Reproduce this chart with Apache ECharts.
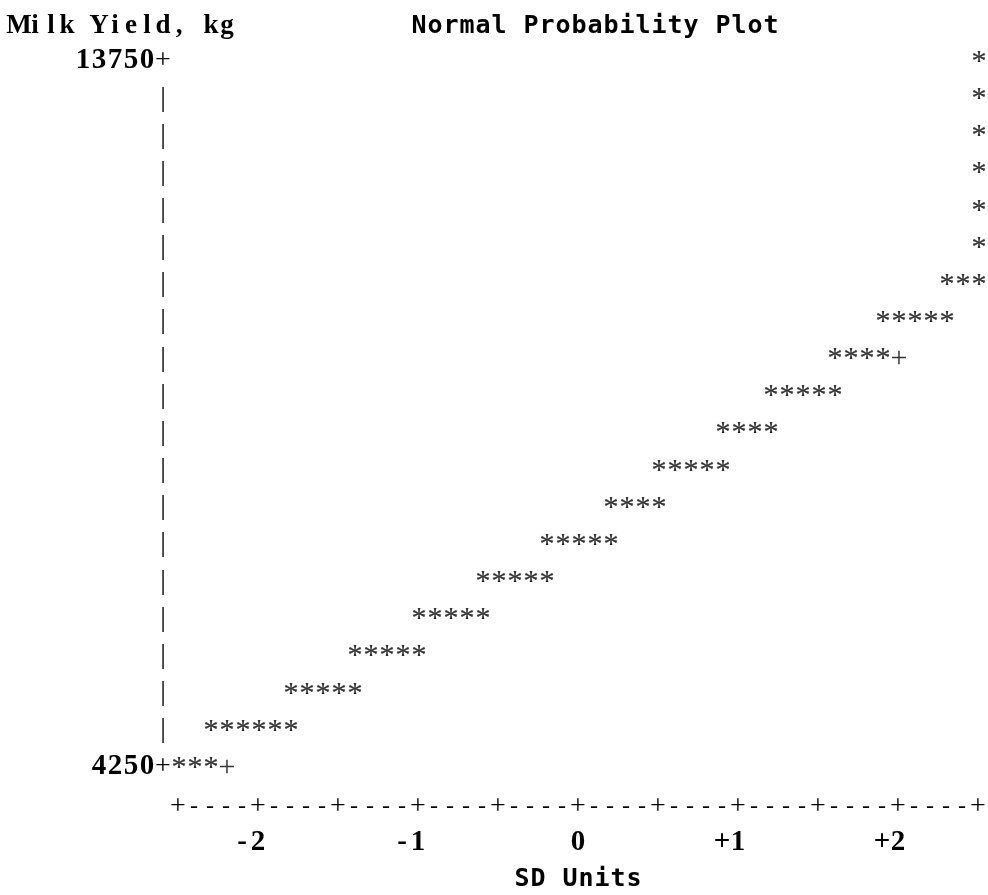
<!DOCTYPE html>
<html>
<head>
<meta charset="utf-8">
<title>Normal Probability Plot</title>
<script src="https://cdn.jsdelivr.net/npm/echarts@6/dist/echarts.min.js"></script>
<style>
  html, body { margin: 0; padding: 0; background: #ffffff; }
  #chart { width: 988px; height: 895px; }
</style>
</head>
<body>
<div id="chart"></div>
<script>
// Milk yield (kg) plotted against normal scores (SD units), one '*' per observation.
const yieldRows = [13750, 13250, 12750, 12250, 11750, 11250, 10750, 10250, 9750, 9250,
                   8750, 8250, 7750, 7250, 6750, 6250, 5750, 5250, 4750, 4250];
const sdScoresByRow = [
  [2.5],
  [2.5],
  [2.5],
  [2.5],
  [2.5],
  [2.5],
  [2.3, 2.4, 2.5],
  [1.9, 2.0, 2.1, 2.2, 2.3],
  [1.6, 1.7, 1.8, 1.9],
  [1.2, 1.3, 1.4, 1.5, 1.6],
  [0.9, 1.0, 1.1, 1.2],
  [0.5, 0.6, 0.7, 0.8, 0.9],
  [0.2, 0.3, 0.4, 0.5],
  [-0.2, -0.1, 0.0, 0.1, 0.2],
  [-0.6, -0.5, -0.4, -0.3, -0.2],
  [-1.0, -0.9, -0.8, -0.7, -0.6],
  [-1.4, -1.3, -1.2, -1.1, -1.0],
  [-1.8, -1.7, -1.6, -1.5, -1.4],
  [-2.3, -2.2, -2.1, -2.0, -1.9, -1.8],
  [-2.5, -2.4, -2.3]
];
// Visible points of the normal reference line ('+').
const refLineSd = [-2.2, 2.0];
const refLineYield = [4250, 9750];
// Axis labels.
const yieldTickValues = [4250, 13750];
const sdTickValues = [-2, -1, 0, 1, 2];
const sdTickLabels = ['-2', '-1', '0', '+1', '+2'];

const CELL = 16;                       // character cell width (line-printer grid)
const SYM_FONT = '"Liberation Serif", "Times New Roman", serif';
const NUM_FONT = '"Liberation Serif", "Times New Roman", serif';
const HEAD_FONT = '"DejaVu Sans Mono", "Liberation Mono", monospace';

const rich = {
  s:   { fontFamily: SYM_FONT,  fontSize: 28, fontWeight: 'normal', width: CELL, align: 'center', lineHeight: 28, color: '#000' },
  p:   { fontFamily: SYM_FONT,  fontSize: 30, fontWeight: 'normal', width: CELL, align: 'center', lineHeight: 28, color: '#000' },
  d:   { fontFamily: SYM_FONT,  fontSize: 24, fontWeight: 'normal', width: CELL, align: 'center', lineHeight: 28, color: '#000' },
  a:   { fontFamily: SYM_FONT,  fontSize: 30, fontWeight: 'normal', width: CELL, align: 'center', lineHeight: 28, color: '#000',
         textBorderColor: '#000', textBorderWidth: 0.2 },
  n:   { fontFamily: NUM_FONT,  fontSize: 29, fontWeight: 'bold',   width: CELL, align: 'center', lineHeight: 28, color: '#000' },
  t:   { fontFamily: NUM_FONT,  fontSize: 27, fontWeight: 'bold',   width: CELL, align: 'center', lineHeight: 28, color: '#000' },
  h:   { fontFamily: HEAD_FONT, fontSize: 25, fontWeight: 'bold',   width: CELL, align: 'center', lineHeight: 28, color: '#000' }
};

// Lay each character into its own fixed-width cell.
function cells(text, style) {
  return Array.from(text).map(function (ch) { return '{' + style + '|' + ch + '}'; }).join('');
}

const starPoints = [];
yieldRows.forEach(function (y, i) {
  sdScoresByRow[i].forEach(function (z) { starPoints.push([z, y]); });
});
const refPoints = refLineSd.map(function (z, i) { return [z, refLineYield[i]]; });

const chart = echarts.init(document.getElementById('chart'), null, { renderer: 'canvas' });

chart.setOption({
  backgroundColor: '#ffffff',
  animation: false,
  title: [
    { text: cells('Milk Yield, kg', 't'), left: 11, top: 12, padding: 0,
      textStyle: { rich: rich } },
    { text: cells('Normal Probability Plot', 'h'), left: 411, top: 12, padding: 0,
      textStyle: { rich: rich } }
  ],
  grid: { left: 178, right: 10, top: 61, bottom: 128, containLabel: false, outerBoundsMode: 'none' },
  xAxis: [
    {
      // "+----+----+" tick line
      type: 'value', position: 'bottom', min: -2.5, max: 2.5, interval: 0.1,
      axisLine: { show: false }, axisTick: { show: false }, splitLine: { show: false },
      axisLabel: {
        show: true, margin: 26, showMinLabel: true, showMaxLabel: true, hideOverlap: false,
        formatter: function (v) {
          return Math.abs(v * 2 - Math.round(v * 2)) < 1e-6 ? cells('+', 's') : cells('-', 'd');
        },
        rich: rich
      }
    },
    {
      type: 'value', position: 'bottom', min: -2.5, max: 2.5, interval: 0.5,
      axisLine: { show: false }, axisTick: { show: false }, splitLine: { show: false },
      name: cells('SD Units', 'h'), nameLocation: 'middle', nameGap: 98,
      nameTextStyle: { rich: rich },
      axisLabel: {
        show: true, margin: 62, hideOverlap: false,
        formatter: function (v) {
          const i = sdTickValues.findIndex(function (t) { return Math.abs(t - v) < 1e-6; });
          if (i < 0) return '';
          const s = sdTickLabels[i];
          return cells(s + ' '.repeat(s.length - 1), 'n');
        },
        rich: rich
      }
    }
  ],
  yAxis: {
    type: 'value', position: 'left', min: 4250, max: 13750, interval: 500,
    axisLine: { show: false }, axisTick: { show: false }, splitLine: { show: false },
    axisLabel: {
      show: true, margin: 7, align: 'right', verticalAlign: 'middle',
      showMinLabel: true, showMaxLabel: true, hideOverlap: false,
      formatter: function (v) {
        if (yieldTickValues.indexOf(v) >= 0) return cells(String(v), 'n') + cells('+', 's');
        return cells('|', 's');
      },
      rich: rich
    }
  },
  series: [
    {
      name: 'Reference', type: 'scatter', xAxisIndex: 0, yAxisIndex: 0,
      data: refPoints, symbolSize: 1, itemStyle: { color: 'rgba(0,0,0,0)' },
      silent: true,
      label: { show: true, position: 'inside', offset: [1, 1], formatter: function () { return cells('+', 'p'); }, rich: rich }
    },
    {
      name: 'Milk Yield', type: 'scatter', xAxisIndex: 0, yAxisIndex: 0,
      data: starPoints, symbolSize: 1, itemStyle: { color: 'rgba(0,0,0,0)' },
      silent: true,
      label: { show: true, position: 'inside', offset: [1, 1], formatter: function () { return cells('*', 'a'); }, rich: rich }
    }
  ]
});
</script>
</body>
</html>
